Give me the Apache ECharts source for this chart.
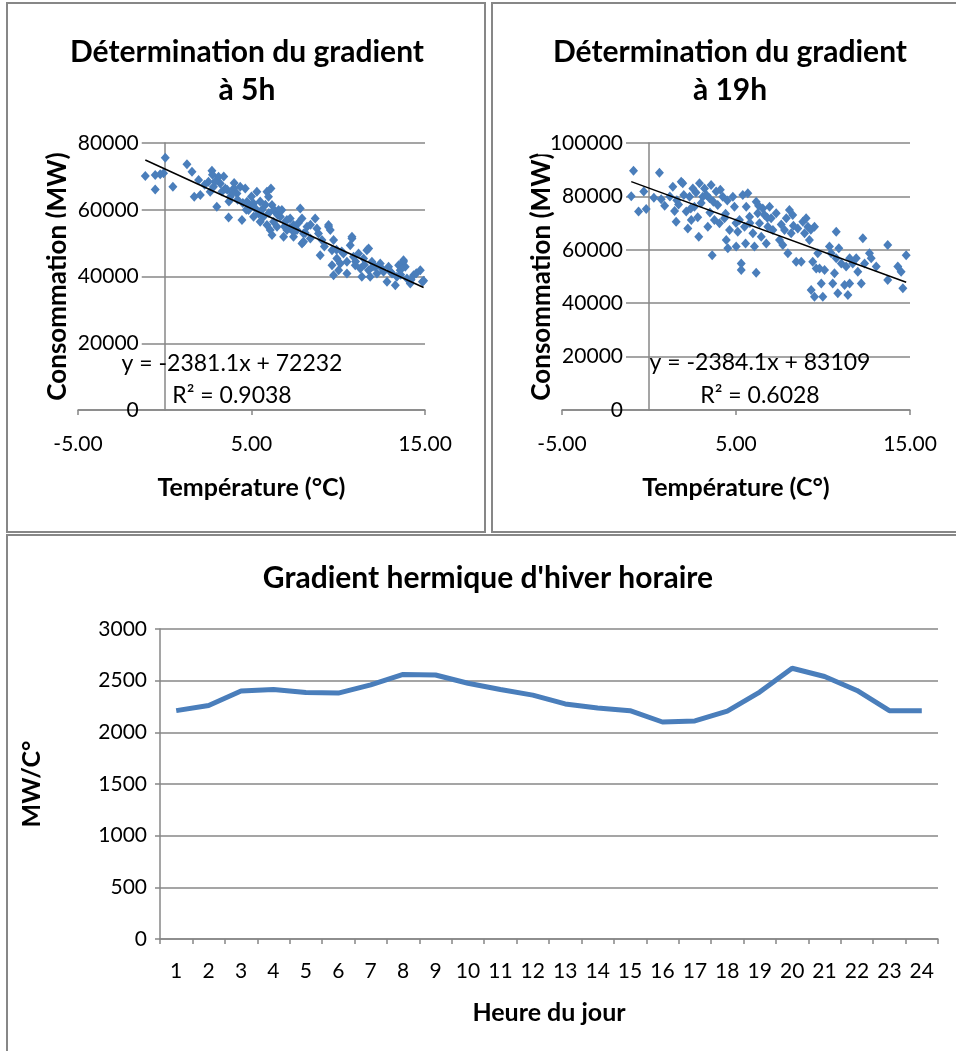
<!DOCTYPE html>
<html>
<head>
<meta charset="utf-8">
<script src="https://cdn.jsdelivr.net/npm/echarts@6/dist/echarts.min.js"></script>
<style>
html, body { margin: 0; padding: 0; background: #fff; }
#chart { width: 956px; height: 1051px; }
</style>
</head>
<body>
<div id="chart"></div>
<script>
// [température °C, consommation MW] - relevés à 5h
const points5h = [
  [-1.12,70100],[-0.55,66100],[-0.55,70400],[0.03,75600],[-0.07,70900],[-0.26,70600],[0.47,66900],
  [1.28,73600],[1.57,71400],[1.70,63900],[2.05,64400],[1.95,68900],[2.72,71700],[2.52,68400],
  [2.62,65400],[3.00,60900],[3.10,69900],[3.20,67900],[2.81,66900],[3.49,66400],[3.68,57700],
  [3.78,63900],[3.97,66400],[4.16,64900],[4.35,66900],[4.64,66400],[4.45,56900],[4.74,62400],
  [4.83,59900],[5.12,61900],[5.31,65400],[5.41,58900],[5.69,57900],[5.89,65400],[5.98,63900],
  [6.12,66400],[6.18,61400],[6.27,56400],[6.37,59400],[6.08,53900],[6.18,52400],[6.47,54900],
  [6.66,57900],[6.75,59900],[6.95,56400],[7.04,53900],[7.23,57400],[7.42,55400],[7.42,51900],
  [7.62,53900],[7.81,60400],[7.91,57400],[8.00,52900],[7.91,49900],[8.20,54900],[8.39,51400],
  [8.67,57400],[8.77,54400],[8.86,52900],[9.06,50900],[8.96,46400],[9.44,55400],[9.54,53900],
  [9.64,47900],[9.73,50900],[9.73,40400],[9.64,43400],[9.92,45400],[10.02,41900],[10.12,43900],
  [10.30,46900],[10.50,40900],[10.50,44400],[10.69,49400],[10.79,51400],[10.88,45900],[10.98,43400],
  [11.17,46900],[11.27,42400],[11.36,39900],[11.46,45400],[11.65,47900],[11.75,41900],[11.84,39900],
  [11.94,44400],[12.13,42900],[12.23,40900],[12.42,43900],[12.61,41400],[12.81,38400],[12.90,42900],
  [13.10,40900],[13.29,37400],[13.38,39900],[13.48,43400],[13.57,41900],[13.76,44400],[13.86,42900],
  [13.96,39400],[14.15,37900],[14.34,40400],[14.73,41900],[14.92,38700],
  [9.44,54900],[10.79,51900],[11.75,48400],[13.76,44900],[14.85,38400],[8.00,50400],[7.42,53400],
  [2.30,67500],[2.90,68500],[3.30,65500],[3.60,66000],[3.90,65000],[4.20,63000],[4.50,62000],
  [4.90,61000],[5.20,60500],[5.60,60000],[5.80,61500],[6.30,60000],[6.50,58500],[6.90,55000],
  [7.20,54500],[7.70,56000],[8.10,53000],[8.40,55500],[9.20,49000],[9.90,48000],[10.20,47500],
  [11.00,44500],[11.50,43500],[12.00,43000],[12.50,42500],[13.00,41500],[13.60,40500],[14.20,39000],
  [14.50,41000],[3.40,70000],[2.75,70500],[4.00,68000],[5.00,64000],[5.50,62500],[6.00,59000],
  [4.70,60000],[3.70,62500],[5.50,56400],[5.89,55400],[6.56,59900],[7.04,56900],[6.85,51900],[5.12,57900]
];

// [température °C, consommation MW] - relevés à 19h
const points19h = [
  [-0.89,89600],[-1.02,80100],[-0.60,74300],[-0.30,81800],[-0.16,75300],[0.28,79500],[0.60,88900],
  [0.70,78900],[1.37,83600],[1.47,74500],[1.60,78600],[1.56,70500],[1.85,85500],[1.94,84900],
  [2.14,74300],[2.23,68000],[2.33,79900],[2.43,71200],[2.52,83000],[2.61,76100],[2.80,72200],
  [2.86,64900],[2.90,84900],[3.09,79900],[3.19,83000],[3.38,68600],[3.48,79300],[3.57,84300],
  [3.63,58000],[3.76,71200],[3.86,81800],[3.95,76800],[4.05,69900],[4.24,79900],[4.34,71800],
  [4.44,63700],[4.53,60600],[4.63,67400],[4.82,79900],[4.91,76100],[5.01,61200],[5.10,66800],
  [5.20,71200],[5.30,54900],[5.30,52400],[5.39,80500],[5.49,68600],[5.55,62400],[5.59,76100],
  [5.68,81200],[5.78,72400],[5.97,66200],[6.06,61200],[6.16,51400],[6.16,78000],[6.25,73700],
  [6.35,69900],[6.45,64900],[6.54,75500],[6.64,73000],[6.74,62400],[6.83,68600],[6.93,76100],
  [7.02,71800],[7.12,67400],[7.31,73700],[7.50,63700],[7.69,61800],[7.79,67400],[7.89,71800],
  [7.98,58700],[8.07,74900],[8.17,66200],[8.26,73000],[8.46,55500],[8.55,68000],[8.75,55500],
  [8.84,70500],[8.94,66200],[9.03,71800],[9.13,68600],[9.22,63700],[9.32,44900],[9.41,55500],
  [9.51,68600],[9.51,42400],[9.61,53000],[9.70,58700],[9.80,53000],[9.90,47400],[9.99,42400],
  [10.09,52400],[10.37,61200],[10.47,58700],[10.56,47400],[10.66,51200],[10.76,66800],[10.76,56800],
  [10.85,43700],[10.91,60600],[11.05,54900],[11.24,46800],[11.33,53700],[11.43,43100],[11.53,56800],
  [11.53,47400],[11.71,54900],[11.91,56800],[12.00,51800],[12.20,47400],[12.29,64300],[12.39,54900],
  [12.67,58700],[12.77,56800],[13.06,53700],[13.72,61800],[13.72,48700],[14.30,53700],[14.49,51800],
  [14.59,45600],[14.78,58000],
  [2.00,80500],[2.70,81500],[3.00,77500],[3.30,80500],[3.70,78000],[4.10,82500],[4.50,78500],
  [1.70,77000],[2.40,75500],[3.50,74000],[4.40,73500],[5.00,70000],[5.80,70000],[6.30,76500],
  [6.80,72000],[7.60,69500],[8.30,69000],[9.30,67500],[1.20,80000],[0.90,76500]
];

// courbes de tendance affichées par Excel
const trend5h = { slope: -2381.1, intercept: 72232, r2: '0.9038' };
const trend19h = { slope: -2384.1, intercept: 83109, r2: '0.6028' };

// gradient horaire
const hours = ['1','2','3','4','5','6','7','8','9','10','11','12','13','14','15','16','17','18','19','20','21','22','23','24'];
const gradient = [2210, 2260, 2400, 2415, 2385, 2380, 2460, 2560, 2555, 2475, 2415, 2360,
                  2275, 2235, 2210, 2100, 2110, 2205, 2390, 2620, 2540, 2405, 2210, 2210];

const tempAxis = { min: -5, max: 15, interval: 10 };
const conso5hAxis = { min: 0, max: 80000, interval: 20000 };
const conso19hAxis = { min: 0, max: 100000, interval: 20000 };
const gradAxis = { min: 0, max: 3000, interval: 500 };

const GRAY = '#878787';
const BLUE = '#4A7EBB';
const FONT = 'Lato';

function trendLine(points, t) {
  const xs = points.map(p => p[0]);
  const x0 = Math.min(...xs), x1 = Math.max(...xs);
  return [[x0, t.slope * x0 + t.intercept], [x1, t.slope * x1 + t.intercept]];
}

function nameStyle(size) {
  return { fontSize: size, fontWeight: 'bold', fontFamily: FONT, color: '#000' };
}

function tempXAxis(gridIndex, name) {
  return {
    type: 'value', gridIndex: gridIndex,
    min: tempAxis.min, max: tempAxis.max, interval: tempAxis.interval,
    axisLine: { onZero: false, lineStyle: { color: GRAY, width: 1.5 } },
    axisTick: { show: true, length: 5, lineStyle: { color: GRAY, width: 1.5 } },
    splitLine: { show: false },
    axisLabel: { margin: 24, fontSize: 21, fontFamily: FONT, color: '#000', formatter: v => v.toFixed(2) },
    name: name, nameLocation: 'middle', nameGap: 65, nameTextStyle: nameStyle(25)
  };
}

// axe "grille" seul (dessiné sous les libellés)
function gridYAxis(gridIndex, range) {
  return {
    type: 'value', gridIndex: gridIndex, position: 'left', z: 0,
    min: range.min, max: range.max, interval: range.interval,
    axisLine: { show: false, onZero: false }, axisTick: { show: false }, axisLabel: { show: false },
    splitLine: { show: true, lineStyle: { color: GRAY, width: 1.5 } }
  };
}

// axe avec libellés : trait sur x = 0, libellés et titre décalés vers l'intérieur
function labelYAxis(gridIndex, range, name, zeroOffset) {
  const txt = { fontSize: 21, fontFamily: FONT, color: '#000', padding: [1, 3, 1, 0] };
  return {
    type: 'value', gridIndex: gridIndex, position: 'left', z: 1,
    min: range.min, max: range.max, interval: range.interval,
    axisLine: { show: true, onZero: true, lineStyle: { color: GRAY, width: 1.5 } },
    axisTick: { show: false },
    splitLine: { show: false },
    axisLabel: {
      margin: 23 - zeroOffset,
      formatter: v => v === 0 ? '{z|0}' : '{g|' + v + '}',
      rich: {
        g: Object.assign({}, txt, { backgroundColor: '#fff', padding: [1, 3, 1, 12] }),
        z: txt
      }
    },
    name: name, nameLocation: 'middle', nameGap: 94 - zeroOffset, nameMoveOverlap: false,
    nameTextStyle: nameStyle(26)
  };
}

const titleStyle = { fontSize: 30, fontWeight: 'bold', fontFamily: FONT, color: '#000', lineHeight: 38 };
const eqStyle = { fontSize: 23, fontFamily: FONT, fill: '#000', align: 'center', verticalAlign: 'middle' };

const chart = echarts.init(document.getElementById('chart'));
chart.setOption({
  animation: false,
  backgroundColor: '#fff',
  textStyle: { fontFamily: FONT },
  title: [
    { text: 'Détermination du gradient\nà 5h', left: 247, top: 33, padding: 0,
      textAlign: 'center', textVerticalAlign: 'top', textStyle: titleStyle },
    { text: 'Détermination du gradient\nà 19h', left: 730, top: 33, padding: 0,
      textAlign: 'center', textVerticalAlign: 'top', textStyle: titleStyle },
    { text: "Gradient hermique d'hiver horaire", left: 488, top: 559, padding: 0,
      textAlign: 'center', textVerticalAlign: 'top', textStyle: titleStyle }
  ],
  grid: [
    { left: 78, top: 143, width: 347, height: 267, outerBoundsMode: 'none' },
    { left: 562, top: 143, width: 348, height: 267, outerBoundsMode: 'none' },
    { left: 160, top: 629, width: 778, height: 310, outerBoundsMode: 'none' }
  ],
  xAxis: [
    tempXAxis(0, 'Température (°C)'),
    tempXAxis(1, 'Température (C°)'),
    {
      type: 'category', gridIndex: 2, data: hours, boundaryGap: true,
      axisLine: { lineStyle: { color: GRAY, width: 1.5 } },
      axisTick: { show: true, length: 5, lineStyle: { color: GRAY, width: 1.5 } },
      axisLabel: { interval: 0, margin: 22, fontSize: 21, fontFamily: FONT, color: '#000' },
      name: 'Heure du jour', nameLocation: 'middle', nameGap: 61, nameTextStyle: nameStyle(25)
    }
  ],
  yAxis: [
    gridYAxis(0, conso5hAxis),
    labelYAxis(0, conso5hAxis, 'Consommation (MW)', 347 / 4),
    gridYAxis(1, conso19hAxis),
    labelYAxis(1, conso19hAxis, 'Consommation (MW)', 348 / 4),
    {
      type: 'value', gridIndex: 2,
      min: gradAxis.min, max: gradAxis.max, interval: gradAxis.interval,
      axisLine: { show: true, lineStyle: { color: GRAY, width: 1.5 } },
      axisTick: { show: true, length: 5, lineStyle: { color: GRAY, width: 1.5 } },
      splitLine: { show: true, lineStyle: { color: GRAY, width: 1.5 } },
      axisLabel: { margin: 13, fontSize: 21, fontFamily: FONT, color: '#000', formatter: v => String(v) },
      name: 'MW/C°', nameLocation: 'middle', nameGap: 116, nameTextStyle: nameStyle(25)
    }
  ],
  series: [
    { type: 'scatter', xAxisIndex: 0, yAxisIndex: 1, data: points5h,
      symbol: 'diamond', symbolSize: [9, 10], itemStyle: { color: BLUE, opacity: 1 } },
    { type: 'line', xAxisIndex: 0, yAxisIndex: 1, data: trendLine(points5h, trend5h),
      symbol: 'none', z: 3, lineStyle: { color: '#000', width: 1.5 } },
    { type: 'scatter', xAxisIndex: 1, yAxisIndex: 3, data: points19h,
      symbol: 'diamond', symbolSize: [9, 10], itemStyle: { color: BLUE, opacity: 1 } },
    { type: 'line', xAxisIndex: 1, yAxisIndex: 3, data: trendLine(points19h, trend19h),
      symbol: 'none', z: 3, lineStyle: { color: '#000', width: 1.5 } },
    { type: 'line', xAxisIndex: 2, yAxisIndex: 4, data: gradient,
      symbol: 'none', lineStyle: { color: BLUE, width: 5 } }
  ],
  graphic: [
    { type: 'rect', shape: { x: 7, y: 3, width: 478, height: 529 }, style: { fill: 'none', stroke: GRAY, lineWidth: 2 } },
    { type: 'rect', shape: { x: 492, y: 3, width: 480, height: 529 }, style: { fill: 'none', stroke: GRAY, lineWidth: 2 } },
    { type: 'rect', shape: { x: 7, y: 535, width: 970, height: 530 }, style: { fill: 'none', stroke: GRAY, lineWidth: 2 } },
    { type: 'text', x: 232, y: 364, z: 10,
      style: Object.assign({ text: 'y = ' + trend5h.slope + 'x + ' + trend5h.intercept }, eqStyle) },
    { type: 'text', x: 232, y: 396, z: 10,
      style: Object.assign({ text: 'R² = ' + trend5h.r2 }, eqStyle) },
    { type: 'text', x: 760, y: 363, z: 10,
      style: Object.assign({ text: 'y = ' + trend19h.slope + 'x + ' + trend19h.intercept }, eqStyle) },
    { type: 'text', x: 760, y: 396, z: 10,
      style: Object.assign({ text: 'R² = ' + trend19h.r2 }, eqStyle) }
  ]
});
</script>
</body>
</html>
